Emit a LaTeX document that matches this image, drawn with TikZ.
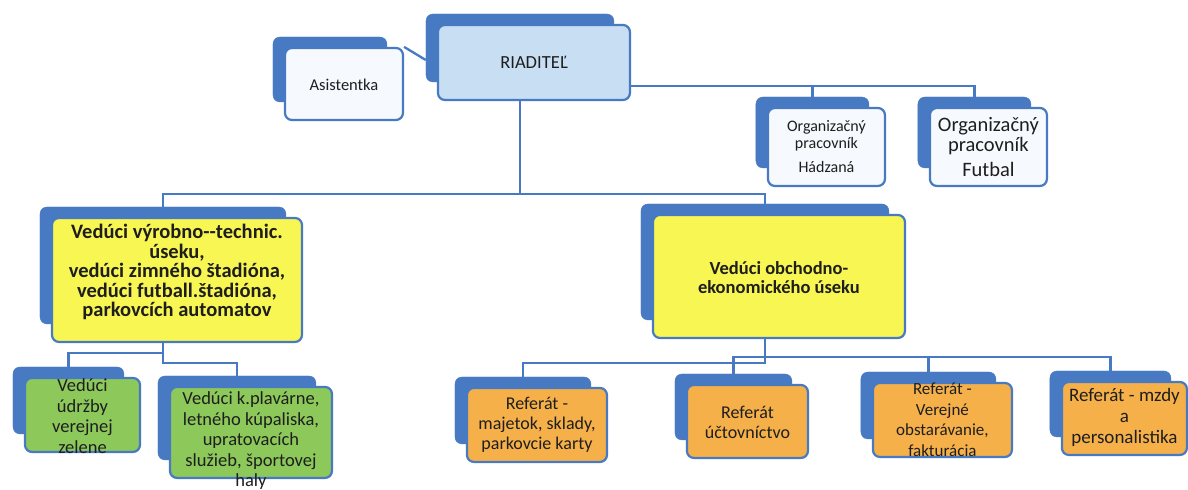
\documentclass[tikz,border=0pt]{standalone}
\usepackage{fontspec}
\setmainfont{Carlito}
\pgfdeclarelayer{bg}
\pgfsetlayers{bg,main}
\definecolor{bblue}{HTML}{477AC2}
\definecolor{lblue}{HTML}{C8DEF2}
\definecolor{pale}{HTML}{F6F9FD}
\definecolor{yel}{HTML}{F8F652}
\definecolor{grn}{HTML}{8CC85A}
\definecolor{org}{HTML}{F5B04A}
\definecolor{ink}{HTML}{1E1E1E}
\tikzset{
  backbox/.style={fill=bblue, draw=bblue, rounded corners=7pt, inner sep=0pt},
  frontbox/.style={draw=bblue, line width=2.2pt, rounded corners=7pt, inner sep=0pt},
  txt/.style={align=center, text=ink, inner sep=0pt},
  conn/.style={draw=bblue, line width=2.3pt},
}
% #1 name, #2 x1, #3 y1, #4 x2, #5 y2 (front box, px), #6 fill, #7 text y, #8 font, #9 text
\newcommand\orgbox[9]{%
  \node[backbox, minimum width={#4-#2-4}, minimum height={#5-#3-7}] (#1)
    at ({(#2+#4)/2-14},{-(#3+#5)/2+14.5}) {};
  \node[frontbox, fill=#6, minimum width={#4-#2}, minimum height={#5-#3}] (#1-f)
    at ({(#2+#4)/2},{-(#3+#5)/2}) {};
  \node[txt, font=#8] (#1-t) at ({(#2+#4)/2},-#7) {#9};
}
\begin{document}
\begin{tikzpicture}[x=1pt,y=1pt]
\begin{pgfonlayer}{bg}
\path[use as bounding box, fill=white] (0,0) rectangle (1188,-488);
\end{pgfonlayer}
\orgbox{riad}{438}{25}{630}{100}{lblue}{62}{\fontsize{18.5}{20}\selectfont}{RIADITEĽ}
\orgbox{asist}{285}{48}{403}{120}{pale}{85}{\fontsize{16.5}{18}\selectfont}{Asistentka}
\orgbox{hadz}{768}{108}{885}{186}{pale}{147}{\fontsize{16}{16.5}\selectfont}{Organizačný\\pracovník\\[8pt]Hádzaná}
\orgbox{futb}{930}{108}{1047}{186}{pale}{147}{\fontsize{20.5}{20}\selectfont}{Organizačný\\pracovník\\[5pt]Futbal}
\orgbox{lyel}{52}{218}{302}{342}{yel}{272}{\bfseries\fontsize{20.5}{19.5}\selectfont}{Vedúci výrobno-{}-technic.\\úseku,\\vedúci zimného štadióna,\\vedúci futball.štadióna,\\parkovcích automatov}
\orgbox{ryel}{653}{215}{905}{338}{yel}{277.5}{\bfseries\fontsize{18.5}{19}\selectfont}{Vedúci obchodno-\\ekonomického úseku}
\orgbox{udrz}{25}{378}{140}{452}{grn}{416}{\fontsize{18.5}{20.5}\selectfont}{Vedúci\\údržby\\verejnej\\zelene}
\orgbox{plav}{170}{387}{332}{478}{grn}{441}{\fontsize{18.5}{20.5}\selectfont}{Vedúci k.plavárne,\\letného kúpaliska,\\upratovacích\\služieb, športovej\\haly}
\orgbox{maj}{467}{388}{607}{462}{org}{425}{\fontsize{18}{20}\selectfont}{Referát -\\majetok, sklady,\\parkovcie karty}
\orgbox{ucto}{687}{385}{808}{458}{org}{422}{\fontsize{18}{20}\selectfont}{Referát\\účtovníctvo}
\orgbox{vere}{873}{383}{1012}{457}{org}{420}{\fontsize{17}{20.5}\selectfont}{Referát -\\Verejné\\obstarávanie,\\fakturácia}
\orgbox{mzdy}{1062}{382}{1187}{455}{org}{417}{\fontsize{19}{21}\selectfont}{Referát - mzdy\\a\\personalistika}
\begin{pgfonlayer}{bg}
\coordinate (h0) at (0,-194);
\coordinate (h3) at (0,-86);
\coordinate (h1) at (0,-363);
\coordinate (h2) at (0,-357);
\coordinate (h4) at (0,-353);
\coordinate (h5) at (0,-363);
\draw[conn] (riad.south) -- (riad.south |- h0);
\draw[conn] (lyel.north) |- (h0 -| ryel.north) -- (ryel.north);
\draw[conn] (riad-f.east |- h3) -| (futb.north);
\draw[conn] (hadz.north) -- (hadz.north |- h3);
\draw[conn] (asist-f.north east) -- ([yshift=-12pt]riad.west);
\draw[conn] (lyel.south) |- (h4 -| udrz.north) -- (udrz.north);
\draw[conn] (lyel.south) |- (h5 -| plav.north) -- (plav.north);
\draw[conn] (ryel.south) |- (h1 -| maj.north) -- (maj.north);
\draw[conn] (ryel.south |- h2) -| (mzdy.north);
\draw[conn] (ucto.north) |- (h2 -| ryel.south);
\draw[conn] (vere.north) -- (vere.north |- h2);
\end{pgfonlayer}
\end{tikzpicture}
\end{document}
